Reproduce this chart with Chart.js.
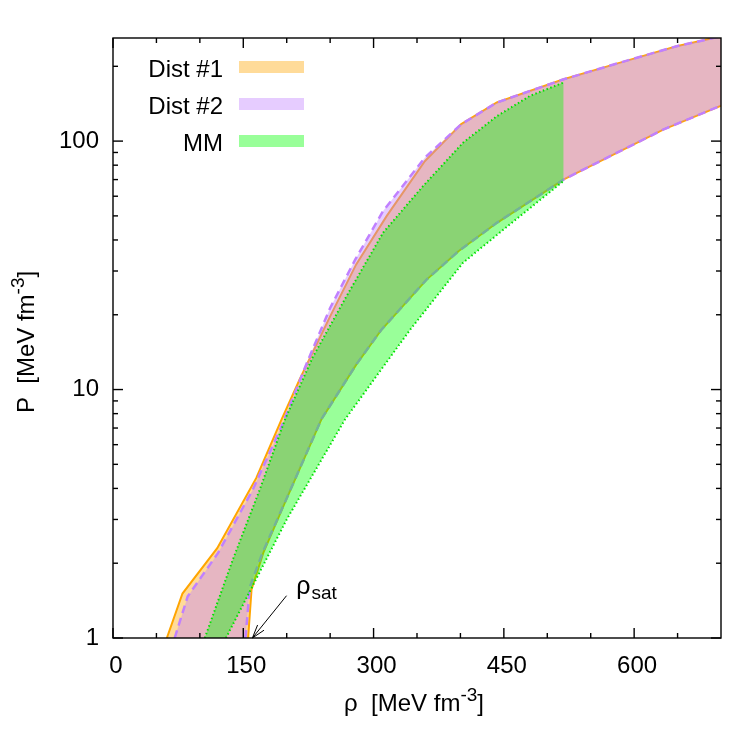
<!DOCTYPE html>
<html>
<head>
<meta charset="utf-8">
<script src="https://cdn.jsdelivr.net/npm/chart.js@4.4.0/dist/chart.umd.min.js"></script>
<style>
    html, body { margin: 0; padding: 0; background: #fff; }
</style>
</head>
<body>
<canvas id="chartEos" width="750" height="750"></canvas>
<script>
/* ============================ Data  ============================ */
// rho and P both in MeV fm^-3
const dist1UpperRho = [62, 80, 120, 165, 194, 215, 250, 280, 315, 359, 401, 442, 518, 584, 649, 700];
const dist1UpperP = [1.0, 1.51, 2.3, 4.41, 7.57, 11.0, 19.7, 31.9, 49.9, 83, 117, 143, 177, 207, 241, 264];
const dist1LowerRho = [155.6, 159.5, 173, 200, 240, 280, 309, 361, 398, 442, 519, 634, 700];
const dist1LowerP = [1.0, 1.57, 2.2, 3.65, 7.6, 12.6, 17.4, 27.7, 36.1, 46.9, 70.1, 111.5, 139];

const dist2UpperRho = [71, 86, 121, 161, 194, 222, 250, 279, 311, 359, 401, 442, 518, 584, 649, 700];
const dist2UpperP = [1.0, 1.47, 2.2, 3.96, 7.11, 12.5, 21.3, 33.4, 52.3, 85.7, 117, 143, 177, 207, 241, 264];
const dist2LowerRho = [152.5, 157.5, 172, 200, 240, 280, 309, 361, 398, 442, 519, 634, 700];
const dist2LowerP = [1.0, 1.6, 2.2, 3.65, 7.6, 12.6, 17.4, 27.7, 36.1, 46.9, 70.1, 111.5, 139];

const mmUpperRho = [105.7, 138, 169, 198, 230, 269, 311, 357, 403, 442, 480, 518.6];
const mmUpperP = [1.0, 2.07, 3.96, 7.57, 13.5, 23.8, 42.8, 65.9, 98.5, 126, 152, 172];
const mmLowerRho = [130, 200, 267, 342, 403, 461, 518.6];
const mmLowerP = [1.0, 3.0, 7.57, 17.4, 32.4, 47.5, 69];

const xTicks = [0, 150, 300, 450, 600];
const xMinorTicks = [50, 100, 200, 250, 350, 400, 500, 550, 650];
const yTicks = [1, 10, 100];
const yMinorTicks = [2, 3, 4, 5, 6, 7, 8, 9, 20, 30, 40, 50, 60, 70, 80, 90, 200];

// rho_sat arrow: tail and tip
const satTail = { x: 199.8, y: 1.48 };
const satTip = { x: 160.5, y: 1.0 };
const satLabel = { x: 211, y: 1.5 };

/* ============================ Styles  ============================ */
const FONT = "'Liberation Sans', Arial, Helvetica, sans-serif";
const orangeFill = "rgba(255, 165, 0, 0.4)";
const purpleFill = "rgba(192, 128, 255, 0.4)";
const greenFill = "rgba(0, 255, 0, 0.4)";

Chart.defaults.font.family = FONT;
Chart.defaults.font.size = 24;
Chart.defaults.color = "#000";

const pts = (xs, ys) => xs.map((x, i) => ({ x: x, y: ys[i] }));
const band = (upX, upY, loX, loY) => pts(upX, upY).concat(pts(loX, loY).reverse());

function fillSet(label, data, color, order) {
    return {
        label: label,
        data: data,
        showLine: true,
        fill: "shape",
        backgroundColor: color,
        borderColor: "rgba(0,0,0,0)",
        borderWidth: 0,
        pointRadius: 0,
        order: order,
        clip: 0,
    };
}

function lineSet(label, data, color, dash, width, order) {
    return {
        label: label,
        data: data,
        showLine: true,
        fill: false,
        borderColor: color,
        borderWidth: width,
        borderDash: dash,
        pointRadius: 0,
        order: order,
        clip: 0,
    };
}

/* ============================ Gnuplot look  ============================ */
function drawUnit(ctx, sym, cx, cy, rot) {
    const main = "24px " + FONT;
    const sup = "19px " + FONT;
    const parts = [[sym + "  [MeV fm", main, 0], ["-3", sup, -10], ["]", main, 0]];
    let total = 0;
    parts.forEach((p) => {
        ctx.font = p[1];
        p.push(ctx.measureText(p[0]).width);
        total += p[3];
    });
    ctx.save();
    ctx.translate(cx, cy);
    ctx.rotate(rot);
    ctx.textAlign = "left";
    ctx.textBaseline = "alphabetic";
    let x = -total / 2;
    parts.forEach((p) => {
        ctx.font = p[1];
        ctx.fillText(p[0], x, p[2]);
        x += p[3];
    });
    ctx.restore();
}

const gnuFrame = {
    id: "gnuFrame",
    afterDraw(chart) {
        const { ctx, chartArea: a, scales } = chart;
        const x = scales.x, y = scales.y;
        ctx.save();
        ctx.strokeStyle = "#000";
        ctx.lineWidth = 1.4;
        ctx.strokeRect(a.left, a.top, a.right - a.left, a.bottom - a.top);

        const seg = (x1, y1, x2, y2) => {
            ctx.beginPath();
            ctx.moveTo(x1, y1);
            ctx.lineTo(x2, y2);
            ctx.stroke();
        };
        const xt = (v, len) => {
            const p = x.getPixelForValue(v);
            seg(p, a.bottom, p, a.bottom - len);
            seg(p, a.top, p, a.top + len);
        };
        const yt = (v, len) => {
            const p = y.getPixelForValue(v);
            seg(a.left, p, a.left + len, p);
            seg(a.right, p, a.right - len, p);
        };
        xTicks.forEach((v) => xt(v, 10));
        xMinorTicks.forEach((v) => xt(v, 5));
        yTicks.forEach((v) => yt(v, 10));
        yMinorTicks.forEach((v) => yt(v, 5));

        // legend, gnuplot style: text then swatch
        const rows = [["Dist #1", orangeFill], ["Dist #2", purpleFill], ["MM", greenFill]];
        ctx.font = "24px " + FONT;
        ctx.textAlign = "right";
        ctx.textBaseline = "alphabetic";
        rows.forEach((r, i) => {
            const base = 77 + i * 37;
            ctx.fillStyle = "#000";
            ctx.fillText(r[0], 223, base);
            ctx.fillStyle = r[1];
            ctx.fillRect(239, base - 16, 65, 12);
        });

        // rho_sat label with arrow
        const tx = x.getPixelForValue(satTail.x), ty = y.getPixelForValue(satTail.y);
        const hx = x.getPixelForValue(satTip.x), hy = y.getPixelForValue(satTip.y);
        ctx.lineWidth = 1;
        seg(tx, ty, hx, hy);
        const ang = Math.atan2(ty - hy, tx - hx);
        [0.3, -0.3].forEach((d) => {
            seg(hx, hy, hx + 14 * Math.cos(ang + d), hy + 14 * Math.sin(ang + d));
        });
        const lx = x.getPixelForValue(satLabel.x), ly = y.getPixelForValue(satLabel.y);
        ctx.textAlign = "left";
        ctx.fillStyle = "#000";
        ctx.font = "25px " + FONT;
        ctx.fillText("\u03c1", lx, ly);
        const w = ctx.measureText("\u03c1").width;
        ctx.font = "19px " + FONT;
        ctx.fillText("sat", lx + w + 1, ly + 5);

        // axis titles
        drawUnit(ctx, "\u03c1", (a.left + a.right) / 2 - 3, 711, 0);
        drawUnit(ctx, "P", 34, (a.top + a.bottom) / 2 + 4, -Math.PI / 2);
        ctx.restore();
    },
};

/* ============================ EoS Chart  ============================ */
const eosChart = new Chart(document.getElementById("chartEos"), {
    type: "scatter",
    data: {
        datasets: [
            fillSet("Dist #1", band(dist1UpperRho, dist1UpperP, dist1LowerRho, dist1LowerP), orangeFill, 9),
            lineSet("Dist #1 upper", pts(dist1UpperRho, dist1UpperP), "#ffa500", [], 2, 8),
            lineSet("Dist #1 lower", pts(dist1LowerRho, dist1LowerP), "#ffa500", [], 2, 7),
            fillSet("Dist #2", band(dist2UpperRho, dist2UpperP, dist2LowerRho, dist2LowerP), purpleFill, 6),
            lineSet("Dist #2 upper", pts(dist2UpperRho, dist2UpperP), "#c080ff", [8, 5], 2.5, 5),
            lineSet("Dist #2 lower", pts(dist2LowerRho, dist2LowerP), "#c080ff", [8, 5], 2.5, 4),
            fillSet("MM", band(mmUpperRho, mmUpperP, mmLowerRho, mmLowerP), greenFill, 3),
            lineSet("MM upper", pts(mmUpperRho, mmUpperP), "#00e000", [1.5, 2.5], 2, 2),
            lineSet("MM lower", pts(mmLowerRho, mmLowerP), "#00e000", [1.5, 2.5], 2, 1),
        ],
    },
    options: {
        responsive: false,
        animation: false,
        devicePixelRatio: 1,
        layout: {
            padding: { left: 0, right: 29, top: 38, bottom: 0 },
        },
        scales: {
            x: {
                type: "linear",
                position: "bottom",
                min: 0,
                max: 700,
                grid: { display: false, drawTicks: false },
                border: { display: false },
                ticks: { padding: 14, labelOffset: 3, autoSkip: false, maxRotation: 0 },
                afterBuildTicks: (s) => {
                    s.ticks = xTicks.map((v) => ({ value: v }));
                },
                afterFit: (s) => {
                    s.height = 112;
                },
            },
            y: {
                type: "logarithmic",
                position: "left",
                min: 1,
                max: 260,
                grid: { display: false, drawTicks: false },
                border: { display: false },
                ticks: {
                    padding: 14,
                    autoSkip: false,
                    callback: (v) => String(v),
                },
                afterBuildTicks: (s) => {
                    s.ticks = yTicks.map((v) => ({ value: v }));
                },
                afterFit: (s) => {
                    s.width = 113;
                },
            },
        },
        plugins: {
            legend: { display: false },
            tooltip: { enabled: false },
        },
    },
    plugins: [gnuFrame],
});
</script>
</body>
</html>
